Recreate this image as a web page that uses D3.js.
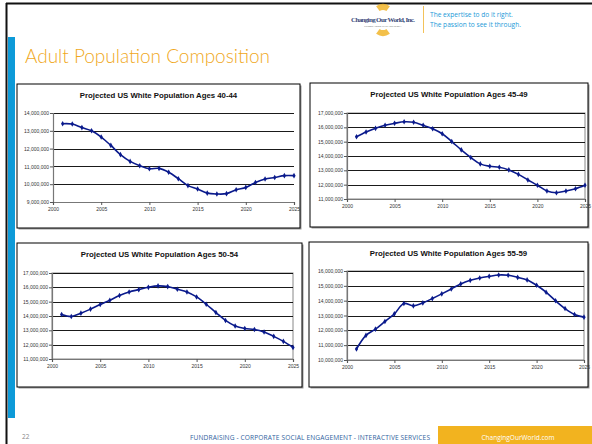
<!DOCTYPE html>
<html>
<head>
<meta charset="utf-8">
<script src="https://cdn.jsdelivr.net/npm/d3@7"></script>
<style>
  html, body { margin: 0; padding: 0; background: #fff; }
  svg { display: block; }
</style>
</head>
<body>
<svg id="slide" width="592" height="444"></svg>
<script>
// years on the x axis
const years = d3.range(2001, 2026);
const xTicks = [2000, 2005, 2010, 2015, 2020, 2025];

// projected populations, millions
const ages4044 = [13.40, 13.38, 13.18, 13.00, 12.65, 12.18, 11.66, 11.28, 11.04, 10.87, 10.89, 10.67, 10.31,
                  9.92, 9.73, 9.50, 9.45, 9.47, 9.69, 9.82, 10.10, 10.29, 10.38, 10.48, 10.48];
const ages4549 = [15.34, 15.67, 15.93, 16.14, 16.28, 16.39, 16.35, 16.14, 15.90, 15.55, 15.01, 14.43, 13.90,
                  13.45, 13.28, 13.21, 13.03, 12.72, 12.33, 11.96, 11.56, 11.44, 11.56, 11.72, 11.96];
const ages5054 = [14.11, 13.97, 14.20, 14.48, 14.80, 15.10, 15.43, 15.68, 15.84, 16.00, 16.10, 16.05, 15.87,
                  15.68, 15.33, 14.82, 14.24, 13.69, 13.30, 13.13, 13.06, 12.88, 12.58, 12.23, 11.81];
const ages5559 = [10.74, 11.66, 12.08, 12.60, 13.11, 13.81, 13.65, 13.85, 14.14, 14.46, 14.79, 15.13, 15.37,
                  15.53, 15.64, 15.73, 15.71, 15.57, 15.40, 15.04, 14.57, 13.99, 13.47, 13.07, 12.89];

const titles = [
  "Projected US White Population Ages 40-44",
  "Projected US White Population Ages 45-49",
  "Projected US White Population Ages 50-54",
  "Projected US White Population Ages 55-59"
];
const yDomains = [[9, 14], [11, 17], [11, 17], [10, 16]];

const svg = d3.select("#slide");

// slide border and blue side bar
svg.append("line").attr("x1", 6).attr("x2", 592).attr("y1", 3.5).attr("y2", 3.5)
  .attr("stroke", "#111").attr("stroke-width", 2);
svg.append("line").attr("x1", 6.5).attr("x2", 6.5).attr("y1", 3).attr("y2", 444)
  .attr("stroke", "#111").attr("stroke-width", 2);
svg.append("rect").attr("x", 8).attr("y", 37).attr("width", 7).attr("height", 381).attr("fill", "#0d9ad8");

// header logo (rough)
const logo = svg.append("g").attr("transform", "translate(383,20)");
[[-35, 35, -4], [145, 215, 4]].forEach(([a0, a1, dy]) => {
  logo.append("path")
    .attr("transform", `translate(0,${dy})`)
    .attr("d", d3.arc().innerRadius(6).outerRadius(12).startAngle(a0 * Math.PI / 180).endAngle(a1 * Math.PI / 180)())
    .attr("fill", "#f1b52a").attr("opacity", 0.85);
});
logo.append("text").attr("x", 0).attr("y", 1.5).attr("text-anchor", "middle")
  .attr("font-family", "Liberation Serif").attr("font-size", 7).attr("font-weight", "bold")
  .attr("fill", "#3a4a7a").attr("textLength", 64).text("Changing Our World, Inc.");
logo.append("text").attr("x", 0).attr("y", 7).attr("text-anchor", "middle")
  .attr("font-family", "Liberation Sans").attr("font-size", 2.5)
  .attr("fill", "#777").text("FUNDRAISING           PHILANTHROPY");
svg.append("line").attr("x1", 423.5).attr("x2", 423.5).attr("y1", 6).attr("y2", 33)
  .attr("stroke", "#f3c25a").attr("stroke-width", 1);
svg.append("text").attr("x", 430).attr("y", 17).attr("font-family", "Open Sans").attr("font-size", 6.6)
  .attr("fill", "#1a9ad8").text("The expertise to do it right.");
svg.append("text").attr("x", 430).attr("y", 27).attr("font-family", "Open Sans").attr("font-size", 6.6)
  .attr("fill", "#1a9ad8").text("The passion to see it through.");

// slide title
svg.append("text").attr("x", 25).attr("y", 63).attr("font-family", "Lato").attr("font-weight", 300)
  .attr("font-size", 20).attr("fill", "#f0a81c")
  .attr("textLength", 245).attr("lengthAdjust", "spacingAndGlyphs")
  .text("Adult Population Composition");

// chart boxes: frame and plot area
const layouts = [
  { frame: [17, 84, 283, 144], plot: [53, 113, 294, 202], border: false },
  { frame: [310, 83, 278, 144], plot: [347, 113, 585, 199], border: true },
  { frame: [17, 243, 285, 144], plot: [52, 273, 293, 359], border: true },
  { frame: [309, 242, 279, 145], plot: [347, 271, 584, 360], border: true }
];
const series = [ages4044, ages4549, ages5054, ages5559];

series.forEach((vals, i) => {
  const L = layouts[i];
  const [fx, fy, fw, fh] = L.frame;
  const [px0, py0, px1, py1] = L.plot;
  const g = svg.append("g");

  g.append("rect").attr("x", fx + 1.5).attr("y", fy + 1.5).attr("width", fw).attr("height", fh)
    .attr("fill", "#9a9a9a");
  g.append("rect").attr("x", fx).attr("y", fy).attr("width", fw).attr("height", fh)
    .attr("fill", "#fff").attr("stroke", "#000").attr("stroke-width", 1);

  g.append("text").attr("x", fx + fw / 2).attr("y", fy + 14).attr("text-anchor", "middle")
    .attr("font-family", "Liberation Sans").attr("font-weight", "bold").attr("font-size", 7.8)
    .attr("fill", "#111").text(titles[i]);

  const x = d3.scaleLinear().domain([2000, 2025]).range([px0, px1]);
  const y = d3.scaleLinear().domain(yDomains[i]).range([py1, py0]);
  const yTicks = d3.range(yDomains[i][0], yDomains[i][1] + 1);

  if (L.border) {
    g.append("rect").attr("x", px0).attr("y", py0).attr("width", px1 - px0).attr("height", py1 - py0)
      .attr("fill", "none").attr("stroke", "#888").attr("stroke-width", 1);
  }

  // gridlines
  g.append("g").selectAll("line").data(yTicks.slice(1)).join("line")
    .attr("x1", px0).attr("x2", px1)
    .attr("y1", d => Math.round(y(d)) + 0.5).attr("y2", d => Math.round(y(d)) + 0.5)
    .attr("stroke", "#000").attr("stroke-width", 0.9);

  const fmt = d3.format(",");
  const yAxis = g.append("g").attr("transform", `translate(${px0},0)`)
    .call(d3.axisLeft(y).tickValues(yTicks).tickSize(3).tickFormat(d => fmt(d * 1e6)));
  const xAxis = g.append("g").attr("transform", `translate(0,${py1})`)
    .call(d3.axisBottom(x).tickValues(xTicks).tickSize(3).tickFormat(d3.format("d")));
  [yAxis, xAxis].forEach(a => {
    a.selectAll("path").attr("stroke", "#777").attr("stroke-width", 1.2);
    a.selectAll("line").attr("stroke", "#555");
    a.selectAll("text").attr("font-family", "Liberation Sans").attr("font-size", 5).attr("fill", "#333");
  });
  yAxis.selectAll("text").attr("x", -4);
  xAxis.selectAll("text").attr("y", 5);

  const pts = years.map((yr, j) => [yr, vals[j]]);
  g.append("path").datum(pts)
    .attr("d", d3.line().x(d => x(d[0])).y(d => y(d[1])).curve(d3.curveCatmullRom.alpha(0.5)))
    .attr("fill", "none").attr("stroke", "#0a1a8c").attr("stroke-width", 1.6);
  g.append("g").selectAll("path").data(pts).join("path")
    .attr("transform", d => `translate(${x(d[0])},${y(d[1])})`)
    .attr("d", d3.symbol(d3.symbolDiamond, 9)())
    .attr("fill", "#0a1a8c");
});

// footer
svg.append("text").attr("x", 22).attr("y", 439).attr("font-family", "Open Sans").attr("font-size", 6.5)
  .attr("fill", "#888").text("22");
svg.append("text").attr("x", 190).attr("y", 440).attr("font-family", "Open Sans").attr("font-size", 6.6)
  .attr("fill", "#2f5f9e").attr("textLength", 240).text("FUNDRAISING  -  CORPORATE SOCIAL ENGAGEMENT  -  INTERACTIVE SERVICES");
svg.append("rect").attr("x", 438).attr("y", 426).attr("width", 154).attr("height", 18).attr("fill", "#f2b31f");
svg.append("text").attr("x", 518).attr("y", 440).attr("text-anchor", "middle").attr("font-family", "Open Sans")
  .attr("font-size", 6.5).attr("fill", "#fff").text("ChangingOurWorld.com");
</script>
</body>
</html>
